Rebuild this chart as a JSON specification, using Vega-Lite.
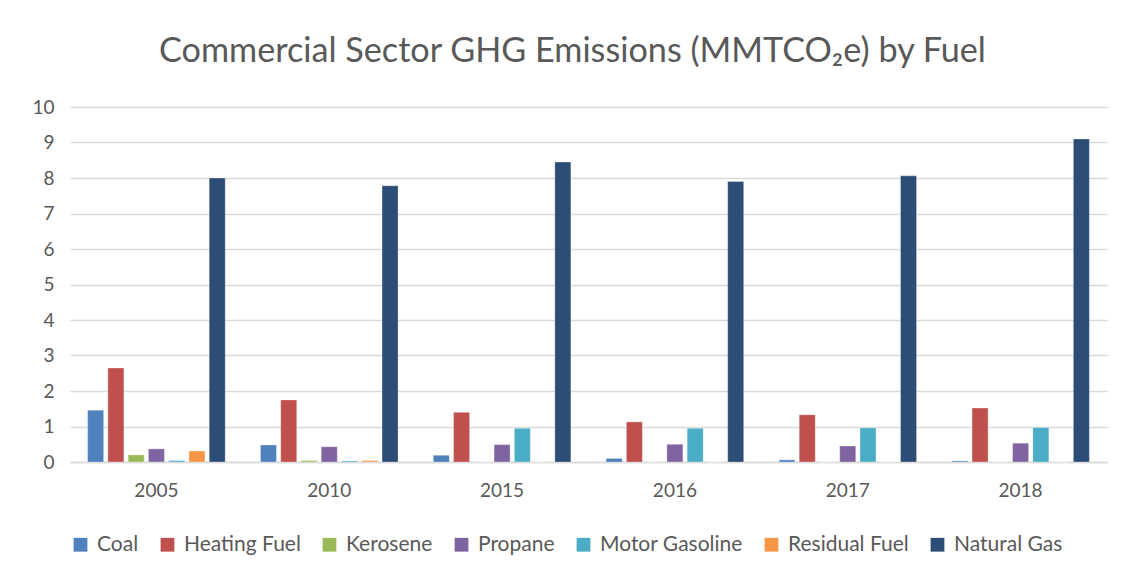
{
  "$schema": "https://vega.github.io/schema/vega-lite/v6.json",
  "width": 1037,
  "height": 355,
  "autosize": {"type": "none"},
  "padding": {"left": 70, "top": 107, "right": 16, "bottom": 119},
  "background": "white",
  "title": {
    "text": "Commercial Sector GHG Emissions (MMTCO₂e) by Fuel",
    "font": "Lato",
    "fontSize": 34.2,
    "fontWeight": "normal",
    "color": "#595959",
    "offset": 29,
    "dx": -16
  },
  "data": {
    "values": [
      {"year": "2005", "fuel": "Coal", "value": 1.46},
      {"year": "2005", "fuel": "Heating Fuel", "value": 2.65},
      {"year": "2005", "fuel": "Kerosene", "value": 0.2},
      {"year": "2005", "fuel": "Propane", "value": 0.37},
      {"year": "2005", "fuel": "Motor Gasoline", "value": 0.04},
      {"year": "2005", "fuel": "Residual Fuel", "value": 0.31},
      {"year": "2005", "fuel": "Natural Gas", "value": 8.0},
      {"year": "2010", "fuel": "Coal", "value": 0.48},
      {"year": "2010", "fuel": "Heating Fuel", "value": 1.75},
      {"year": "2010", "fuel": "Kerosene", "value": 0.04},
      {"year": "2010", "fuel": "Propane", "value": 0.43},
      {"year": "2010", "fuel": "Motor Gasoline", "value": 0.03},
      {"year": "2010", "fuel": "Residual Fuel", "value": 0.04},
      {"year": "2010", "fuel": "Natural Gas", "value": 7.78},
      {"year": "2015", "fuel": "Coal", "value": 0.19},
      {"year": "2015", "fuel": "Heating Fuel", "value": 1.4},
      {"year": "2015", "fuel": "Kerosene", "value": 0.0},
      {"year": "2015", "fuel": "Propane", "value": 0.49},
      {"year": "2015", "fuel": "Motor Gasoline", "value": 0.95},
      {"year": "2015", "fuel": "Residual Fuel", "value": 0.0},
      {"year": "2015", "fuel": "Natural Gas", "value": 8.45},
      {"year": "2016", "fuel": "Coal", "value": 0.1},
      {"year": "2016", "fuel": "Heating Fuel", "value": 1.13},
      {"year": "2016", "fuel": "Kerosene", "value": 0.0},
      {"year": "2016", "fuel": "Propane", "value": 0.5},
      {"year": "2016", "fuel": "Motor Gasoline", "value": 0.95},
      {"year": "2016", "fuel": "Residual Fuel", "value": 0.0},
      {"year": "2016", "fuel": "Natural Gas", "value": 7.9},
      {"year": "2017", "fuel": "Coal", "value": 0.06},
      {"year": "2017", "fuel": "Heating Fuel", "value": 1.33},
      {"year": "2017", "fuel": "Kerosene", "value": 0.0},
      {"year": "2017", "fuel": "Propane", "value": 0.45},
      {"year": "2017", "fuel": "Motor Gasoline", "value": 0.96},
      {"year": "2017", "fuel": "Residual Fuel", "value": 0.0},
      {"year": "2017", "fuel": "Natural Gas", "value": 8.06},
      {"year": "2018", "fuel": "Coal", "value": 0.03},
      {"year": "2018", "fuel": "Heating Fuel", "value": 1.52},
      {"year": "2018", "fuel": "Kerosene", "value": 0.0},
      {"year": "2018", "fuel": "Propane", "value": 0.53},
      {"year": "2018", "fuel": "Motor Gasoline", "value": 0.97},
      {"year": "2018", "fuel": "Residual Fuel", "value": 0.0},
      {"year": "2018", "fuel": "Natural Gas", "value": 9.1}
    ]
  },
  "mark": {"type": "bar", "stroke": "white", "strokeWidth": 0.5, "strokeOpacity": 0.6},
  "encoding": {
    "x": {
      "field": "year",
      "type": "nominal",
      "scale": {"paddingInner": 0, "paddingOuter": 0},
      "axis": {
        "title": null,
        "labelAngle": 0,
        "ticks": false,
        "domainColor": "#D9D9D9",
        "domainWidth": 1.5,
        "labelFont": "Lato",
        "labelFontSize": 19,
        "labelColor": "#595959",
        "labelPadding": 19
      }
    },
    "xOffset": {
      "field": "fuel",
      "type": "nominal",
      "sort": ["Coal", "Heating Fuel", "Kerosene", "Propane", "Motor Gasoline", "Residual Fuel", "Natural Gas"],
      "scale": {"paddingInner": 0.21, "paddingOuter": 0.87}
    },
    "y": {
      "field": "value",
      "type": "quantitative",
      "scale": {"domain": [0, 10], "nice": false},
      "axis": {
        "title": null,
        "values": [0, 1, 2, 3, 4, 5, 6, 7, 8, 9, 10],
        "domain": false,
        "ticks": false,
        "gridColor": "#D9D9D9",
        "gridWidth": 1.5,
        "labelFont": "Lato",
        "labelFontSize": 19,
        "labelColor": "#595959",
        "labelPadding": 16
      }
    },
    "color": {
      "field": "fuel",
      "type": "nominal",
      "scale": {
        "domain": ["Coal", "Heating Fuel", "Kerosene", "Propane", "Motor Gasoline", "Residual Fuel", "Natural Gas"],
        "range": ["#4F81BD", "#C0504D", "#9BBB59", "#8064A2", "#4BACC6", "#F79646", "#2C4D75"]
      },
      "legend": {
        "title": null,
        "orient": "bottom",
        "direction": "horizontal",
        "columns": 7,
        "symbolType": "square",
        "symbolSize": 190,
        "symbolStrokeWidth": 0,
        "labelFont": "Lato",
        "labelFontSize": 21,
        "labelColor": "#595959",
        "labelOffset": 6,
        "columnPadding": 18,
        "offset": 34
      }
    }
  },
  "config": {
    "view": {"stroke": null}
  }
}
